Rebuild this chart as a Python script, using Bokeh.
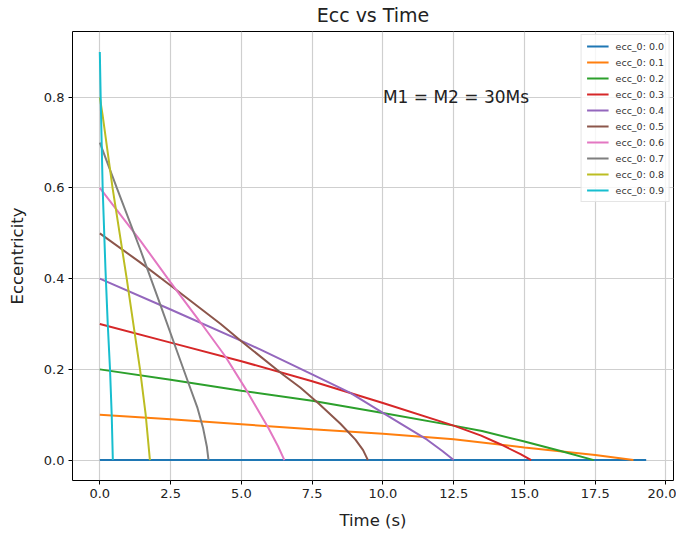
from bokeh.plotting import figure
from bokeh.models import Range1d, FixedTicker, Label, Legend, LegendItem, PrintfTickFormatter
from bokeh.embed import file_html
from bokeh.resources import INLINE

# ---- data ----
t_00 = [0.0, 19.3]
e_00 = [0.0, 0.0]

t_01 = [0.0, 2.5, 5.0, 7.5, 10.0, 12.5, 15.0, 17.5, 18.85]
e_01 = [0.1, 0.09, 0.079, 0.068, 0.058, 0.046, 0.028, 0.011, 0.0]

t_02 = [0.0, 2.5, 5.0, 7.5, 10.0, 12.5, 13.5, 15.0, 16.28, 17.45]
e_02 = [0.2, 0.177, 0.153, 0.131, 0.104, 0.076, 0.064, 0.041, 0.02, 0.0]

t_03 = [0.0, 2.5, 5.0, 7.5, 10.0, 12.5, 13.47, 14.15, 14.86, 15.24]
e_03 = [0.3, 0.259, 0.218, 0.174, 0.126, 0.076, 0.054, 0.035, 0.013, 0.0]

t_04 = [0.0, 2.5, 5.0, 5.66, 7.5, 8.85, 10.0, 11.56, 12.1, 12.5]
e_04 = [0.4, 0.332, 0.263, 0.244, 0.189, 0.148, 0.104, 0.045, 0.02, 0.0]

t_05 = [0.0, 1.4, 2.5, 4.27, 5.0, 6.5, 7.08, 7.73, 8.5, 9.03, 9.3, 9.47]
e_05 = [0.5, 0.437, 0.385, 0.3, 0.262, 0.187, 0.16, 0.125, 0.08, 0.045, 0.022, 0.0]

t_06 = [0.0, 1.43, 2.5, 3.6, 4.43, 5.2, 5.96, 6.3, 6.52]
e_06 = [0.6, 0.484, 0.392, 0.3, 0.229, 0.152, 0.07, 0.03, 0.0]

t_07 = [0.0, 0.6, 1.42, 2.13, 2.6, 3.13, 3.45, 3.65, 3.78, 3.84]
e_07 = [0.7, 0.6, 0.466, 0.344, 0.262, 0.17, 0.115, 0.07, 0.03, 0.0]

t_08 = [0.0, 0.1, 0.45, 0.95, 1.42, 1.62, 1.77]
e_08 = [0.8, 0.76, 0.6, 0.4, 0.2, 0.1, 0.0]

t_09 = [0.0, 0.03, 0.1, 0.2, 0.28, 0.36, 0.42, 0.46]
e_09 = [0.9, 0.8, 0.6, 0.42, 0.3, 0.2, 0.1, 0.0]

series_t = [t_00, t_01, t_02, t_03, t_04, t_05, t_06, t_07, t_08, t_09]
series_e = [e_00, e_01, e_02, e_03, e_04, e_05, e_06, e_07, e_08, e_09]
labels = ["ecc_0: 0.0", "ecc_0: 0.1", "ecc_0: 0.2", "ecc_0: 0.3", "ecc_0: 0.4",
          "ecc_0: 0.5", "ecc_0: 0.6", "ecc_0: 0.7", "ecc_0: 0.8", "ecc_0: 0.9"]
colors = ["#1f77b4", "#ff7f0e", "#2ca02c", "#d62728", "#9467bd",
          "#8c564b", "#e377c2", "#7f7f7f", "#bcbd22", "#17becf"]

x_ticks = [0.0, 2.5, 5.0, 7.5, 10.0, 12.5, 15.0, 17.5, 20.0]
y_ticks = [0.0, 0.2, 0.4, 0.6, 0.8]
title_text = "Ecc vs Time"
annotation = "M1 = M2 = 30Ms"
annot_x, annot_y = 10.0, 0.8

FONT = "DejaVu Sans"

p = figure(width=676, height=528, output_backend="svg", toolbar_location=None,
           frame_width=601, frame_height=449,
           x_range=Range1d(-0.965, 20.265), y_range=Range1d(-0.045, 0.945),
           min_border_left=72, min_border_right=3, min_border_top=31, min_border_bottom=48,
           title=title_text)
p.title.align = "center"
p.title.vertical_align = "top"
p.title.text_font = FONT
p.title.text_font_size = "19px"
p.title.text_font_style = "normal"
p.title.text_color = "#222222"
p.title.standoff = 7

p.outline_line_color = "black"
p.outline_line_width = 1
p.background_fill_color = "white"
p.border_fill_color = "white"

for ax in (p.xaxis, p.yaxis):
    ax.axis_line_color = None
    ax.major_tick_in = 0
    ax.major_tick_out = 4
    ax.minor_tick_line_color = None
    ax.major_label_text_font = FONT
    ax.major_label_text_font_size = "13px"
    ax.major_label_text_color = "#222222"
    ax.axis_label_text_font = FONT
    ax.axis_label_text_font_size = "16.5px"
    ax.axis_label_text_font_style = "normal"
    ax.axis_label_text_color = "#222222"

p.xaxis.ticker = FixedTicker(ticks=x_ticks)
p.yaxis.ticker = FixedTicker(ticks=y_ticks)
p.xaxis.formatter = PrintfTickFormatter(format="%.1f")
p.yaxis.formatter = PrintfTickFormatter(format="%.1f")
p.xaxis.axis_label = "Time (s)"
p.yaxis.axis_label = "Eccentricity"
p.xaxis.major_label_standoff = 4
p.yaxis.major_label_standoff = 4
p.xaxis.axis_label_standoff = 10
p.yaxis.axis_label_standoff = 14

p.xgrid.ticker = FixedTicker(ticks=x_ticks)
p.ygrid.ticker = FixedTicker(ticks=y_ticks)
for g in (p.xgrid, p.ygrid):
    g.grid_line_color = "#cfcfcf"
    g.grid_line_width = 1.2

items = []
for t, e, lab, c in zip(series_t, series_e, labels, colors):
    r = p.line(t, e, line_color=c, line_width=2)
    items.append(LegendItem(label=lab, renderers=[r]))

legend = Legend(items=items, location="top_right")
legend.label_text_font = FONT
legend.label_text_font_size = "9.5px"
legend.label_text_color = "#333333"
legend.glyph_width = 22
legend.glyph_height = 12
legend.label_height = 12
legend.spacing = 4
legend.padding = 5
legend.margin = 3
legend.label_standoff = 7
legend.border_line_color = "#cccccc"
legend.border_line_width = 1
legend.background_fill_alpha = 0.8
p.add_layout(legend)

p.add_layout(Label(x=annot_x, y=annot_y, text=annotation, text_font=FONT,
                   text_font_size="17px", text_color="#222222",
                   text_baseline="alphabetic"))

open("out.html", "w").write(file_html(p, INLINE))
